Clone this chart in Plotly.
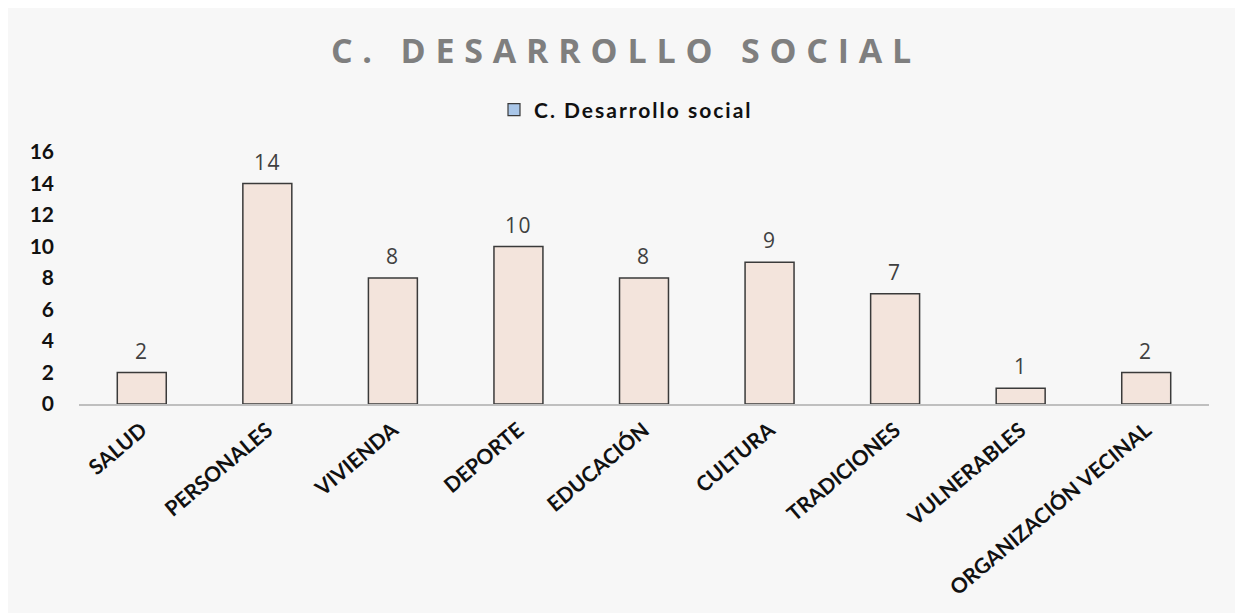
import plotly.graph_objects as go

categories = ["SALUD", "PERSONALES", "VIVIENDA", "DEPORTE", "EDUCACIÓN",
              "CULTURA", "TRADICIONES", "VULNERABLES", "ORGANIZACIÓN VECINAL"]
values = [2, 14, 8, 10, 8, 9, 7, 1, 2]
series_name = "C. Desarrollo social"
title_text = "C. DESARROLLO SOCIAL"
y_ticks = [0, 2, 4, 6, 8, 10, 12, 14, 16]

OFF = 8  # page body margin
W, H = 1243 - OFF, 613 - OFF
# reference pixel positions -> figure positions
plot_l, plot_r, plot_t, plot_b = 79 - OFF, 1209 - OFF, 152 - OFF, 404 - OFF
L, R, T, B = plot_l, W - plot_r, plot_t, H - plot_b
pw, ph = plot_r - plot_l, plot_b - plot_t

fig = go.Figure()
fig.add_trace(go.Bar(
    x=categories, y=values, name=series_name, showlegend=False,
    marker=dict(color="#f3e4dc", line=dict(color="#3a3a3a", width=1.5)),
    width=0.39, hoverinfo="x+y",
))
# legend-only entry (Excel legend swatch shows the blue edge colour)
fig.add_trace(go.Bar(
    x=[None], y=[None], name='<span style="letter-spacing:2px">' + series_name + '</span>',
    showlegend=True,
    marker=dict(color="#a9c6e8", line=dict(color="#3a3a3a", width=1.2)),
))

for c, v in zip(categories, values):
    fig.add_annotation(x=c, y=v, text='<span style="letter-spacing:1.5px">' + str(v) + '</span>',
                       showarrow=False, yanchor="middle", yshift=22,
                       font=dict(family="Open Sans", size=21, color="#404040"))

fig.add_shape(type="rect", xref="paper", yref="paper", layer="below",
              x0=(6 - OFF - plot_l) / pw, x1=(1240 - OFF - plot_l) / pw,
              y0=(plot_b - 640) / ph, y1=(plot_b - (7 - OFF)) / ph,
              fillcolor="#f7f7f7", line=dict(color="#d9d9d9", width=1.5))

fig.update_layout(
    width=W, height=H,
    margin=dict(l=L, r=R, t=T, b=B, autoexpand=False),
    paper_bgcolor="white", plot_bgcolor="rgba(0,0,0,0)",
    barmode="overlay",
    title=dict(text='<span style="letter-spacing:9.8px">' + title_text + '</span>',
               x=(626 - OFF) / W, xanchor="center", y=1 - (51 - OFF) / H, yanchor="middle",
               font=dict(family="Open Sans", size=34, color="#7f7f7f", weight="bold")),
    legend=dict(orientation="h", xref="container", yref="container",
                x=(626 - OFF) / W, xanchor="center", y=1 - (110 - OFF) / H, yanchor="middle",
                font=dict(family="Lato", size=21, color="#111", weight="bold"),
                bgcolor="rgba(0,0,0,0)", itemwidth=30),
    xaxis=dict(type="category", tickangle=-40, showgrid=False,
               showline=True, linecolor="#bfbfbf", linewidth=1.5,
               tickfont=dict(family="Lato", size=21, color="#111", weight="bold"),
               ticks="", ticklabelstandoff=4, range=[-0.5, 8.5]),
    yaxis=dict(range=[0, 16], tickvals=y_ticks, showgrid=False, zeroline=False,
               showline=False, ticks="", ticklabelstandoff=24,
               tickfont=dict(family="Lato", size=21, color="#111", weight="bold")),
)

fig.write_html("out.html")
